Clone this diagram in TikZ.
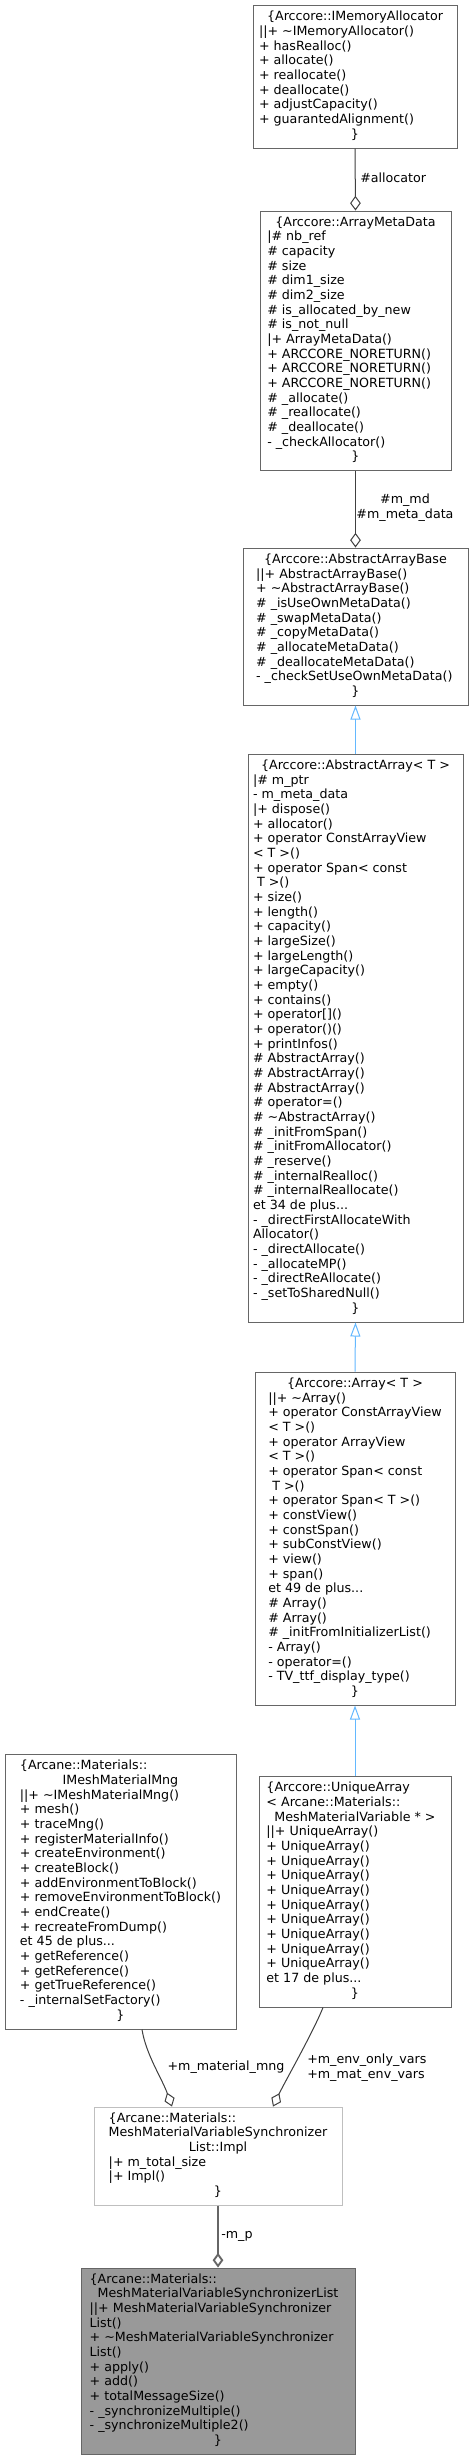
\documentclass[tikz,border=0pt]{standalone}
\usepackage{fontspec}
\setmainfont{DejaVu Sans}
\usetikzlibrary{arrows.meta,calc}
\definecolor{bordergray}{HTML}{666666}
\definecolor{lightborder}{HTML}{BFBFBF}
\definecolor{edgegray}{HTML}{404040}
\definecolor{mainfill}{HTML}{999999}
\definecolor{inhblue}{HTML}{63B8FF}
\newcommand\mycl[1]{\multicolumn{1}{c}{#1}}
\newcommand\tl{\textasciitilde{}}
\tikzset{
  box/.style={draw=bordergray, line width=0.75pt, fill=white, inner sep=0pt,
    font=\fontsize{9.5pt}{11pt}\selectfont},
  lbl/.style={inner sep=0pt, font=\fontsize{9.5pt}{11pt}\selectfont},
  agg/.style={draw=edgegray, line width=0.75pt, -{Diamond[open, length=11pt, width=8pt]}},
  inh/.style={draw=inhblue, line width=0.75pt, -{Triangle[open, length=10.5pt, width=7.5pt]}}
}
\renewcommand\arraystretch{1}
\begin{document}
\begin{tikzpicture}[x=0.75pt,y=-0.75pt]
\useasboundingbox[fill=white] (0,0) rectangle (473,2460);

\node[box, minimum width=153pt, minimum height=107.25pt] (ima) at (355,76.5) {\begin{tabular}{@{}l@{}}
\mycl{\{Arccore::IMemoryAllocator}\\
||+ \tl IMemoryAllocator()\\
+ hasRealloc()\\
+ allocate()\\
+ reallocate()\\
+ deallocate()\\
+ adjustCapacity()\\
+ guarantedAlignment()\\
\mycl{\}}
\end{tabular}};

\node[box, minimum width=143.25pt, minimum height=194.25pt] (amd) at (355.5,340.5) {\begin{tabular}{@{}l@{}}
\mycl{\{Arccore::ArrayMetaData}\\
|\# nb\_ref\\
\# capacity\\
\# size\\
\# dim1\_size\\
\# dim2\_size\\
\# is\_allocated\_by\_new\\
\# is\_not\_null\\
|+ ArrayMetaData()\\
+ ARCCORE\_NORETURN()\\
+ ARCCORE\_NORETURN()\\
+ ARCCORE\_NORETURN()\\
\# \_allocate()\\
\# \_reallocate()\\
\# \_deallocate()\\
- \_checkAllocator()\\
\mycl{\}}
\end{tabular}};

\node[box, minimum width=168.75pt, minimum height=117.75pt] (aab) at (355.5,626.5) {\begin{tabular}{@{}l@{}}
\mycl{\{Arccore::AbstractArrayBase}\\
||+ AbstractArrayBase()\\
+ \tl AbstractArrayBase()\\
\# \_isUseOwnMetaData()\\
\# \_swapMetaData()\\
\# \_copyMetaData()\\
\# \_allocateMetaData()\\
\# \_deallocateMetaData()\\
- \_checkSetUseOwnMetaData()\\
\mycl{\}}
\end{tabular}};

\node[box, minimum width=161.25pt, minimum height=426pt] (aa) at (355.5,1038) {\begin{tabular}{@{}l@{}}
\mycl{\{Arccore::AbstractArray< T >}\\
|\# m\_ptr\\
- m\_meta\_data\\
|+ dispose()\\
+ allocator()\\
+ operator ConstArrayView\\
< T >()\\
+ operator Span< const\\
\ T >()\\
+ size()\\
+ length()\\
+ capacity()\\
+ largeSize()\\
+ largeLength()\\
+ largeCapacity()\\
+ empty()\\
+ contains()\\
+ operator[]()\\
+ operator()()\\
+ printInfos()\\
\# AbstractArray()\\
\# AbstractArray()\\
\# AbstractArray()\\
\# operator=()\\
\# \tl AbstractArray()\\
\# \_initFromSpan()\\
\# \_initFromAllocator()\\
\# \_reserve()\\
\# \_internalRealloc()\\
\# \_internalReallocate()\\
et 34 de plus...\\
- \_directFirstAllocateWith\\
Allocator()\\
- \_directAllocate()\\
- \_allocateMP()\\
- \_directReAllocate()\\
- \_setToSharedNull()\\
\mycl{\}}
\end{tabular}};

\node[box, minimum width=150pt, minimum height=249.75pt] (arr) at (355,1538.5) {\begin{tabular}{@{}l@{}}
\mycl{\{Arccore::Array< T >}\\
||+ \tl Array()\\
+ operator ConstArrayView\\
< T >()\\
+ operator ArrayView\\
< T >()\\
+ operator Span< const\\
\ T >()\\
+ operator Span< T >()\\
+ constView()\\
+ constSpan()\\
+ subConstView()\\
+ view()\\
+ span()\\
et 49 de plus...\\
\# Array()\\
\# Array()\\
\# \_initFromInitializerList()\\
- Array()\\
- operator=()\\
- TV\_ttf\_display\_type()\\
\mycl{\}}
\end{tabular}};

\node[box, minimum width=144pt, minimum height=173.25pt] (ua) at (355,1891.5) {\begin{tabular}{@{}l@{}}
\{Arccore::UniqueArray\\
< Arcane::Materials::\\
\mycl{MeshMaterialVariable * >}\\
||+ UniqueArray()\\
+ UniqueArray()\\
+ UniqueArray()\\
+ UniqueArray()\\
+ UniqueArray()\\
+ UniqueArray()\\
+ UniqueArray()\\
+ UniqueArray()\\
+ UniqueArray()\\
+ UniqueArray()\\
et 17 de plus...\\
\mycl{\}}
\end{tabular}};

\node[box, minimum width=173.25pt, minimum height=206.25pt] (imm) at (120.5,1891.5) {\begin{tabular}{@{}l@{}}
\{Arcane::Materials::\\
\mycl{IMeshMaterialMng}\\
||+ \tl IMeshMaterialMng()\\
+ mesh()\\
+ traceMng()\\
+ registerMaterialInfo()\\
+ createEnvironment()\\
+ createBlock()\\
+ addEnvironmentToBlock()\\
+ removeEnvironmentToBlock()\\
+ endCreate()\\
+ recreateFromDump()\\
et 45 de plus...\\
+ getReference()\\
+ getReference()\\
+ getTrueReference()\\
- \_internalSetFactory()\\
\mycl{\}}
\end{tabular}};

\node[box, draw=lightborder, minimum width=186pt, minimum height=73.5pt] (impl) at (218,2156) {\begin{tabular}{@{}l@{}}
\{Arcane::Materials::\\
MeshMaterialVariableSynchronizer\\
\mycl{List::Impl}\\
|+ m\_total\_size\\
|+ Impl()\\
\mycl{\}}
\end{tabular}};

\node[box, fill=mainfill, minimum width=205.5pt, minimum height=139.5pt] (main) at (218,2361) {\begin{tabular}{@{}l@{}}
\{Arcane::Materials::\\
\mycl{MeshMaterialVariableSynchronizerList}\\
||+ MeshMaterialVariableSynchronizer\\
List()\\
+ \tl MeshMaterialVariableSynchronizer\\
List()\\
+ apply()\\
+ add()\\
+ totalMessageSize()\\
- \_synchronizeMultiple()\\
- \_synchronizeMultiple2()\\
\mycl{\}}
\end{tabular}};

% aggregation edges
\draw[agg] (ima.south) -- (amd.north);
\node[lbl, anchor=west] (lalloc) at (360,178) {\#allocator};

\draw[agg] (amd.south) -- (aab.north);
\node[lbl, align=center] (lmd) at (405,507.5) {\#m\_md\\\#m\_meta\_data};

% inheritance
\draw[inh] (aa.north) -- (aab.south);
\draw[inh] (arr.north) -- (aa.south);
\draw[inh] (ua.north) -- (arr.south);

% curved aggregations
\coordinate (immout) at ($(imm.south)+(21.5,0)$);
\coordinate (implinl) at ($(impl.north)+(-46,0)$);
\coordinate (uaout) at ($(ua.south)+(-32,0)$);
\coordinate (implinr) at ($(impl.north)+(55,0)$);
\draw[agg] (immout) .. controls +(4,25) and +(-10,-28) .. (implinl);
\draw[agg] (uaout) .. controls +(-10,25) and +(12,-25) .. (implinr);
\node[lbl] (lmat) at (226,2067) {+m\_material\_mng};
\node[lbl, anchor=west, align=left] (lenv) at (307,2067.5) {+m\_env\_only\_vars\\+m\_mat\_env\_vars};

% m_p
\draw[agg, draw=bordergray, line width=1.4pt] (impl.south) -- (main.north);
\node[lbl, anchor=west] (lmp) at (221,2236) {-m\_p};
\end{tikzpicture}
\end{document}
